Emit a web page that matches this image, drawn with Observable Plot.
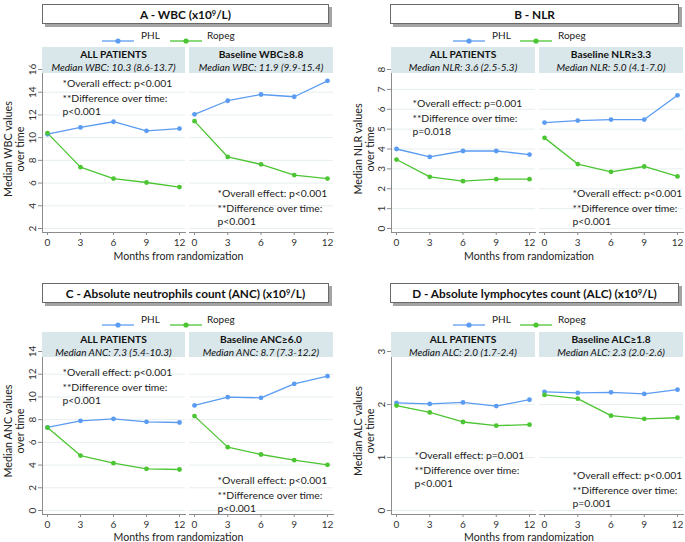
<!DOCTYPE html>
<html><head><meta charset="utf-8">
<script src="https://cdn.jsdelivr.net/npm/d3@7"></script>
<script src="https://cdn.jsdelivr.net/npm/@observablehq/plot@0.6"></script>
<style>
body{margin:0;background:#fff;font-family:Lato,"Open Sans",sans-serif;}
#root{position:relative;width:685px;height:542px;overflow:hidden;background:#fff;}
.abs{position:absolute;}
.tbox{position:absolute;box-sizing:border-box;border:1px solid #6a6a6a;box-shadow:3px 3px 0 #a3a3a3;background:#fff;display:flex;align-items:center;justify-content:center;font-weight:bold;font-size:11.8px;color:#111;}
.tbox sup{font-size:7.5px;vertical-align:4px;line-height:0;}
.hdr{position:absolute;background:#d9e6ea;text-align:center;color:#111;box-sizing:border-box;}
.hdr .h1{font-weight:bold;font-size:10.2px;line-height:13px;}
.hdr .h2{font-style:italic;font-size:10px;line-height:12px;}
.ytit{position:absolute;text-align:center;font-size:10.8px;line-height:12px;color:#222;transform:rotate(-90deg);}
.xtit{position:absolute;font-size:10.6px;color:#222;white-space:nowrap;transform:translate(-50%,-50%);}
.leglab{position:absolute;font-size:10px;color:#222;transform:translateY(-50%);}
svg.plotsvg{position:absolute;}
</style>
</head><body><div id="root"></div>
<script>
const months = [0, 3, 6, 9, 12];
const series = ["PHL", "Ropeg"];
const seriesColors = ["#5b9cf2", "#4cc532"];

// A - WBC
const wbcAllPHL    = [10.3, 10.9, 11.4, 10.6, 10.8];
const wbcAllRopeg  = [10.4, 7.4, 6.4, 6.05, 5.65];
const wbcHighPHL   = [12.05, 13.25, 13.8, 13.6, 15.0];
const wbcHighRopeg = [11.45, 8.3, 7.65, 6.7, 6.4];
// B - NLR
const nlrAllPHL    = [4.0, 3.6, 3.9, 3.9, 3.72];
const nlrAllRopeg  = [3.47, 2.6, 2.38, 2.48, 2.48];
const nlrHighPHL   = [5.33, 5.43, 5.48, 5.48, 6.7];
const nlrHighRopeg = [4.56, 3.24, 2.85, 3.12, 2.62];
// C - ANC
const ancAllPHL    = [7.31, 7.9, 8.07, 7.81, 7.75];
const ancAllRopeg  = [7.3, 4.84, 4.17, 3.67, 3.61];
const ancHighPHL   = [9.25, 9.98, 9.92, 11.15, 11.83];
const ancHighRopeg = [8.31, 5.58, 4.93, 4.43, 4.02];
// D - ALC
const alcAllPHL    = [2.03, 2.01, 2.04, 1.97, 2.09];
const alcAllRopeg  = [1.98, 1.85, 1.67, 1.60, 1.62];
const alcHighPHL   = [2.24, 2.22, 2.23, 2.20, 2.28];
const alcHighRopeg = [2.18, 2.11, 1.79, 1.73, 1.75];

const yTicksA = [2, 4, 6, 8, 10, 12, 14, 16];
const yTicksB = [0, 1, 2, 3, 4, 5, 6, 7, 8];
const yTicksC = [0, 2, 4, 6, 8, 10, 12, 14];
const yTicksD = [0, 1, 2, 3];

const panelTitles = ["A - WBC (x10<sup>9</sup>/L)", "B - NLR",
  "C - Absolute neutrophils count (ANC) (x10<sup>9</sup>/L)", "D - Absolute lymphocytes count (ALC) (x10<sup>9</sup>/L)"];
const yTitles = [["Median WBC values","over time"],["Median NLR values","over time"],
  ["Median ANC values","over time"],["Median ALC values","over time"]];
const facetTitlesA = ["ALL PATIENTS", "Baseline WBC≥8.8"];
const facetTitlesB = ["ALL PATIENTS", "Baseline NLR≥3.3"];
const facetTitlesC = ["ALL PATIENTS", "Baseline ANC≥6.0"];
const facetTitlesD = ["ALL PATIENTS", "Baseline ALC≥1.8"];
const mediansA = ["Median WBC: 10.3 (8.6-13.7)", "Median WBC: 11.9 (9.9-15.4)"];
const mediansB = ["Median NLR: 3.6 (2.5-5.3)", "Median NLR: 5.0 (4.1-7.0)"];
const mediansC = ["Median ANC: 7.3 (5.4-10.3)", "Median ANC: 8.7 (7.3-12.2)"];
const mediansD = ["Median ALC: 2.0 (1.7-2.4)", "Median ALC: 2.3 (2.0-2.6)"];
const notesA = [["*Overall effect: p<0.001","**Difference over time:","p<0.001"],["*Overall effect: p<0.001","**Difference over time:","p<0.001"]];
const notesB = [["*Overall effect: p=0.001","**Difference over time:","p=0.018"],["*Overall effect: p<0.001","**Difference over time:","p<0.001"]];
const notesC = [["*Overall effect: p<0.001","**Difference over time:","p<0.001"],["*Overall effect: p<0.001","**Difference over time:","p<0.001"]];
const notesD = [["*Overall effect: p=0.001","**Difference over time:","p<0.001"],["*Overall effect: p<0.001","**Difference over time:","p=0.001"]];
const xLabel = "Months from randomization";

// layout (styles only)
const cols = [
  {x0: 0, yAxis: 42, f: [[42,185],[189,333]], title: [42,329], ytCx: 14, xlabCx: 178.5, leg: [102,141,170,207]},
  {x0: 340, yAxis: 391, f: [[391,535],[539,683]], title: [390,679], ytCx: 363.5, xlabCx: 529, leg: [453,492,520,558]}
];
const rowsL = [
  {title: [4,24], leg: 35, hdr: [47,73], top: 69, bottom: 228, xlab: 256},
  {title: [283,303], leg: 319, hdr: [332,357], top: 351, bottom: 510, xlab: 537}
];

const panels = [
  {col:0,row:0,title:panelTitles[0],yt:yTitles[0],ticks:yTicksA,heads:facetTitlesA,meds:mediansA,notes:notesA,
   data:[[wbcAllPHL,wbcAllRopeg],[wbcHighPHL,wbcHighRopeg]], noteOff:[[20,14],[28,124]]},
  {col:1,row:0,title:panelTitles[1],yt:yTitles[1],ticks:yTicksB,heads:facetTitlesB,meds:mediansB,notes:notesB,
   data:[[nlrAllPHL,nlrAllRopeg],[nlrHighPHL,nlrHighRopeg]], noteOff:[[21,34],[33,124]]},
  {col:0,row:1,title:panelTitles[2],yt:yTitles[2],ticks:yTicksC,heads:facetTitlesC,meds:mediansC,notes:notesC,
   data:[[ancAllPHL,ancAllRopeg],[ancHighPHL,ancHighRopeg]], noteOff:[[20,21],[28,129]]},
  {col:1,row:1,title:panelTitles[3],yt:yTitles[3],ticks:yTicksD,heads:facetTitlesD,meds:mediansD,notes:notesD,
   data:[[alcAllPHL,alcAllRopeg],[alcHighPHL,alcHighRopeg]], noteOff:[[23,104],[33,124]]}
];

const root = document.getElementById("root");
function el(cls, css, html){const d=document.createElement("div");d.className=cls;Object.assign(d.style,css);if(html!==undefined)d.innerHTML=html;root.appendChild(d);return d;}

for (const p of panels) {
  const c = cols[p.col], r = rowsL[p.row];
  const yDomain = [p.ticks[0], p.ticks[p.ticks.length-1]];
  for (let gi = 0; gi < 2; gi++) {
    const rows = [];
    series.forEach((s, si) => p.data[gi][si].forEach((v, i) => rows.push({month: months[i], value: v, series: s})));
    const left = gi === 0;
    const fr = c.f[gi];
    const svgLeft = left ? c.x0 : fr[0] - 2;
    const mLeft = left ? c.yAxis - c.x0 : 2;
    const mRight = 2;
    const width = fr[1] - svgLeft + mRight;
    const svgTop = r.hdr[0];
    const mTop = r.top - svgTop;
    const mBottom = 20;
    const height = (r.bottom + 4) - svgTop + mBottom;
    const [ox, oy] = p.noteOff[gi];
    const note = p.notes[gi];
    const nt = {frameAnchor: "top-left", dx: ox, textAnchor: "start", lineAnchor: "middle", fontSize: 10.4, fill: "#222"};
    const marks = [
      Plot.gridY(p.ticks, {stroke: "#e6eeee", strokeOpacity: 1}),
      Plot.frame({anchor: "bottom", stroke: "#8c8c8c"}),
      left ? Plot.frame({anchor: "left", stroke: "#8c8c8c"}) : null,
      Plot.axisX({ticks: months, tickSize: 3, tickPadding: 3, fontSize: 10, stroke: "#8c8c8c", fill: "#333", label: null}),
      left ? Plot.axisY({ticks: p.ticks, tickFormat: "d", tickSize: 4, tickPadding: 3, tickRotate: -90, fontSize: 10, stroke: "#8c8c8c", fill: "#333", label: null})
           : Plot.axisY({ticks: [], label: null}),
      Plot.line(rows, {x: "month", y: "value", z: "series", stroke: "series", strokeWidth: 1.3}),
      Plot.dot(rows, {x: "month", y: "value", fill: "series", r: 2.4}),
      Plot.text([note[0]], {...nt, dy: oy}),
      Plot.text([note[1]], {...nt, dy: oy + 15.5}),
      Plot.text([note[2]], {...nt, dy: oy + 28})
    ].filter(Boolean);
    const svg = Plot.plot({
      width, height, marginLeft: mLeft, marginRight: mRight, marginTop: mTop, marginBottom: mBottom,
      insetLeft: 5, insetRight: 6, insetTop: 0, insetBottom: 4,
      style: {background: "transparent", fontFamily: "Lato, 'Open Sans', sans-serif", overflow: "visible"},
      x: {domain: [0, 12]},
      y: {domain: yDomain},
      color: {domain: series, range: seriesColors},
      marks
    });
    svg.classList.add("plotsvg");
    svg.style.left = svgLeft + "px";
    svg.style.top = svgTop + "px";
    svg.style.position = "absolute";
    root.appendChild(svg);
    // facet header
    el("hdr", {left: fr[0] + "px", top: r.hdr[0] + "px", width: (fr[1] - fr[0]) + "px", height: (r.hdr[1] - r.hdr[0]) + "px", paddingTop: "1px"},
      `<div class="h1">${p.heads[gi]}</div><div class="h2">${p.meds[gi]}</div>`);
  }
  // title box
  el("tbox", {left: c.title[0] + "px", top: r.title[0] + "px", width: (c.title[1] - c.title[0]) + "px", height: (r.title[1] - r.title[0]) + "px"}, p.title);
  // legend
  const lg = c.leg;
  series.forEach((s, si) => {
    const sx = lg[si * 2], lx = lg[si * 2 + 1];
    const d = el("abs", {left: sx + "px", top: (r.leg - 5) + "px", width: "32px", height: "10px"});
    d.innerHTML = `<svg width="32" height="10"><line x1="0" x2="32" y1="5" y2="5" stroke="${seriesColors[si]}" stroke-width="1.3"/><circle cx="16" cy="5" r="2.6" fill="${seriesColors[si]}"/></svg>`;
    el("leglab", {left: lx + "px", top: r.leg + "px"}, s);
  });
  // y title
  const ch = (r.top + r.bottom) / 2;
  el("ytit", {left: (c.ytCx - 80) + "px", top: (ch - 12) + "px", width: "160px", height: "24px"}, p.yt.join("<br>"));
  // x title
  el("xtit", {left: c.xlabCx + "px", top: r.xlab + "px"}, xLabel);
}
</script></body></html>
